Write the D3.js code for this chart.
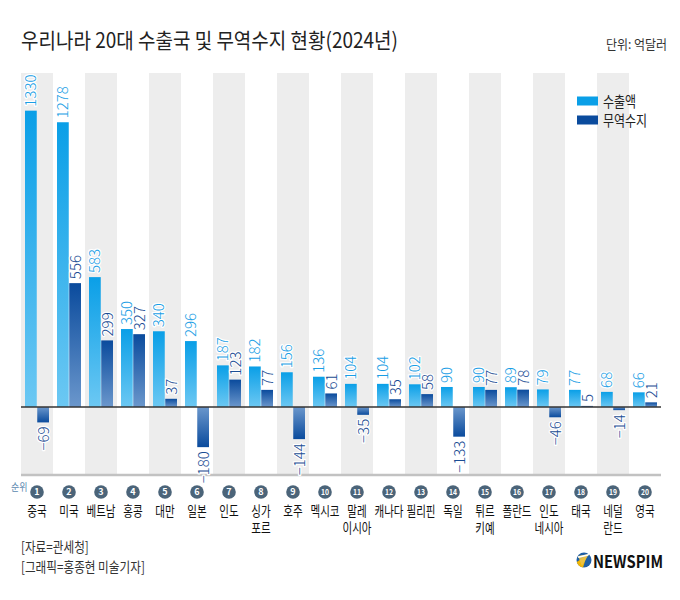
<!DOCTYPE html>
<html><head><meta charset="utf-8">
<script src="https://cdn.jsdelivr.net/npm/d3@7/dist/d3.min.js"></script>
<style>
body{margin:0;background:#fff;}
svg text{font-family:"Noto Sans CJK KR","Noto Sans",sans-serif;}
</style></head>
<body><svg id="c" width="680" height="600"></svg>
<script>
const categories = ["중국","미국","베트남","홍콩","대만","일본","인도","싱가포르","호주","멕시코","말레이시아","캐나다","필리핀","독일","튀르키예","폴란드","인도네시아","태국","네덜란드","영국"];
const categoryLines = [["중국"],["미국"],["베트남"],["홍콩"],["대만"],["일본"],["인도"],["싱가","포르"],["호주"],["멕시코"],["말레","이시아"],["캐나다"],["필리핀"],["독일"],["튀르","키예"],["폴란드"],["인도","네시아"],["태국"],["네덜","란드"],["영국"]];
const exportsVal = [1330,1278,583,350,340,296,187,182,156,136,104,104,102,90,90,89,79,77,68,66];
const balanceVal = [-69,556,299,327,37,-180,123,77,-144,61,-35,35,58,-133,77,78,-46,5,-14,21];
const seriesNames = ["수출액","무역수지"];
const titleText = "우리나라 20대 수출국 및 무역수지 현황(2024년)";
const unitText = "단위: 억달러";
const notes = ["[자료=관세청]","[그래픽=홍종현 미술기자]"];

const svg = d3.select("#c");
const defs = svg.append("defs");
function grad(id, c1, c2){
  const g = defs.append("linearGradient").attr("id",id).attr("x1",0).attr("y1",0).attr("x2",0).attr("y2",1);
  g.append("stop").attr("offset","0%").attr("stop-color",c1);
  g.append("stop").attr("offset","100%").attr("stop-color",c2);
}
grad("gExp","#0a9fe7","#6cc8f3");
grad("gBalPos","#0a4b9d","#6b97cc");
grad("gBalNeg","#6b97cc","#0a4b9d");

const x = d3.scaleBand().domain(categories).range([21,661]).padding(0);
const xs = d3.scaleBand().domain(seriesNames).range([4,28]).paddingInner(0.04);
const y = d3.scaleLinear().domain([-305,1499]).range([475,73]);

function condense(sel,k){ sel.each(function(){ const w=this.getComputedTextLength(); d3.select(this).attr("textLength",w*k).attr("lengthAdjust","spacingAndGlyphs"); }); }

// bands
svg.append("g").selectAll("rect").data(categories).join("rect")
  .attr("x",d=>x(d)).attr("y",y(1499)).attr("width",x.bandwidth()).attr("height",y(-305)-y(1499))
  .attr("fill",(d,i)=>i%2===0?"#ededed":"#ffffff");

// bottom line
svg.append("line").attr("x1",21).attr("x2",661).attr("y1",y(-305)).attr("y2",y(-305)).attr("stroke","#c2c2c2").attr("stroke-width",2.5);

const data = categories.map((c,i)=>({c,i,e:exportsVal[i],b:balanceVal[i]}));
const bars = svg.append("g");
bars.selectAll(".e").data(data).join("rect")
  .attr("x",d=>x(d.c)+xs("수출액")).attr("width",xs.bandwidth())
  .attr("y",d=>y(d.e)).attr("height",d=>y(0)-y(d.e)).attr("fill","url(#gExp)");
bars.selectAll(".b").data(data).join("rect")
  .attr("x",d=>x(d.c)+xs("무역수지")).attr("width",xs.bandwidth())
  .attr("y",d=>y(Math.max(0,d.b))).attr("height",d=>Math.abs(y(0)-y(d.b)))
  .attr("fill",d=>d.b>=0?"url(#gBalPos)":"url(#gBalNeg)");

// zero line
svg.append("line").attr("x1",21).attr("x2",661).attr("y1",y(0)).attr("y2",y(0)).attr("stroke","#333").attr("stroke-width",1.6);

const fmt = d3.format("d");
function labels(key,series,color){
  svg.append("g").selectAll("text").data(data).join("text")
    .attr("transform",d=>{
      const cx = x(d.c)+xs(series)+xs.bandwidth()/2;
      const v = d[key];
      const yy = v>=0 ? y(v)-4 : y(v)+4;
      return `translate(${cx},${yy}) rotate(-90)`;
    })
    .attr("text-anchor",d=>d[key]>=0?"start":"end")
    .attr("dy","0.36em")
    .attr("font-size",15).attr("font-weight",300)
    .attr("fill",color)
    .attr("stroke","#fff").attr("stroke-width",2.5).attr("paint-order","stroke").attr("stroke-linejoin","round")
    .text(d=>fmt(d[key]));
}
labels("e","수출액","#1a9ee5");
labels("b","무역수지","#1b4d94");

// title
svg.append("text").attr("x",21).attr("y",48).attr("font-size",21).attr("font-weight",400).attr("fill","#222").text(titleText)
  .attr("textLength",377).attr("lengthAdjust","spacingAndGlyphs");
svg.append("text").attr("x",667).attr("y",49).attr("text-anchor","end").attr("font-size",13).attr("fill","#333").text(unitText).call(condense,0.92);

// legend
const lg = svg.append("g");
[["수출액","#0a9fe7",101],["무역수지","#0a4b9d",120]].forEach(([n,c,yy])=>{
  lg.append("rect").attr("x",577).attr("y",yy-4.5).attr("width",21).attr("height",9).attr("fill",c);
  lg.append("text").attr("x",603).attr("y",yy+5.5).attr("font-size",15).attr("fill","#222").text(n).call(condense,0.8);
});

// rank circles
svg.append("text").attr("x",11).attr("y",491).attr("font-size",10.5).attr("fill","#5b89b0").text("순위").call(condense,0.85);
const rk = svg.append("g").selectAll("g").data(data).join("g")
  .attr("transform",d=>`translate(${x(d.c)+x.bandwidth()/2},492)`);
rk.append("circle").attr("r",6.8).attr("fill","#4b6479");
rk.append("text").attr("text-anchor","middle").attr("dy","0.35em").attr("font-size",d=>d.i>=9?8:9).attr("font-weight",700)
  .attr("fill","#fff").text(d=>d.i+1).each(function(d){ if(d.i>=9){ const w=this.getComputedTextLength(); d3.select(this).attr("textLength",w*0.85).attr("lengthAdjust","spacingAndGlyphs"); }});

// category names (one text per category, lines as tspans)
const cn = svg.append("g").selectAll("text").data(data).join("text")
  .attr("text-anchor","middle").attr("font-size",13.5).attr("fill","#111");
cn.each(function(d){
  const t = d3.select(this);
  const cx = x(d.c)+x.bandwidth()/2;
  categoryLines[d.i].forEach((ln,j)=>{
    const sp = t.append("tspan").attr("x",cx).attr("y",516+j*17).text(ln);
    const w = sp.node().getComputedTextLength();
    sp.attr("textLength",w*0.78).attr("lengthAdjust","spacingAndGlyphs");
  });
});

// notes
notes.forEach((n,i)=>{
  svg.append("text").attr("x",21).attr("y",552+i*20).attr("font-size",14).attr("fill","#333").text(n).call(condense,0.83);
});

// logo
const logo = svg.append("g").attr("transform","translate(584,560)");
logo.append("circle").attr("r",7.5).attr("fill","#1f5fa6");
logo.append("path").attr("d","M-7.2,2 A7.5,7.5 0 0 0 -1,7.4 L3,-5 Z").attr("fill","#f2b705");
logo.append("path").attr("d","M-6,-4 L5,-6 L-2,6 Z").attr("fill","#e9c24a").attr("opacity",0.9);
logo.append("path").attr("d","M-6.5,-3.5 L5.5,-6.2 L4.2,-4.2 L-5.5,-2 Z").attr("fill","#fff");
svg.append("text").attr("x",593).attr("y",568).attr("font-size",17).attr("font-weight",700).attr("fill","#111")
  .attr("font-family","Roboto, 'Liberation Sans', sans-serif").text("NEWSPIM").attr("textLength",70).attr("lengthAdjust","spacingAndGlyphs");
</script></body></html>
